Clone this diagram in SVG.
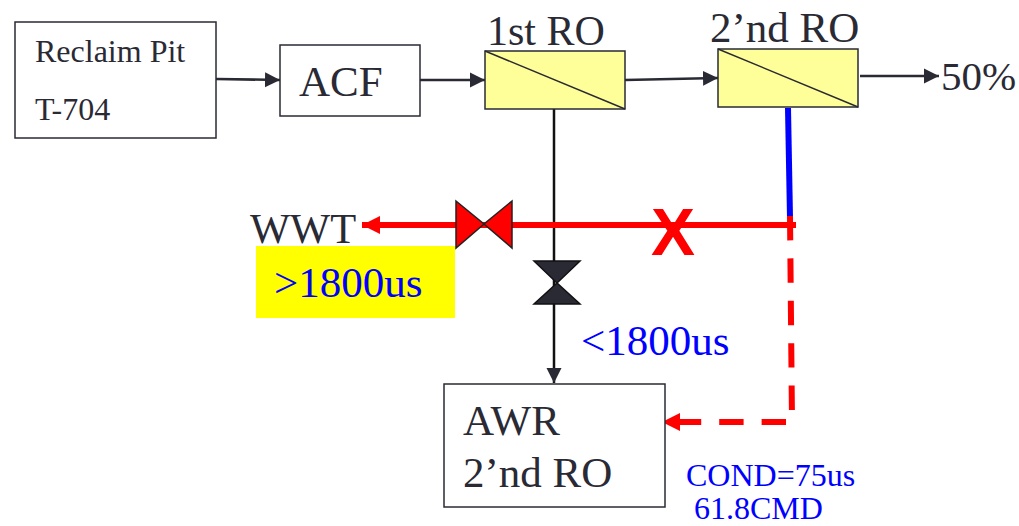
<svg xmlns="http://www.w3.org/2000/svg" width="1019" height="526" viewBox="0 0 1019 526">
<defs>
<marker id="ab" markerUnits="userSpaceOnUse" markerWidth="16" markerHeight="16" refX="15" refY="8" orient="auto"><path d="M0 0.5L15 8L0 15.5Z" fill="#2a2a35"/></marker>
<marker id="ar" markerUnits="userSpaceOnUse" markerWidth="20" markerHeight="20" refX="18" refY="10" orient="auto"><path d="M0 1L18 10L0 19Z" fill="#ff0000"/></marker>
</defs>
<style>
text{font-family:"Liberation Serif","Times New Roman",serif;fill:#2a2a35}
.box{fill:#fff;stroke:#2a2a35;stroke-width:1.5}
.ro{fill:#ffff99;stroke:#2a2a35;stroke-width:1.5}
.l{fill:none;stroke:#2a2a35;stroke-width:2.5}
.d{fill:none;stroke:#2a2a35;stroke-width:1.5}
.b{fill:#0000ff}
</style>
<rect width="1019" height="526" fill="#fff"/>
<g id="connectors">
<path class="l" d="M216 79L280 80" marker-end="url(#ab)"/>
<path class="l" d="M420 80L485 80" marker-end="url(#ab)"/>
<path class="l" d="M625 80L718 78" marker-end="url(#ab)"/>
<path class="l" d="M860 76L939 76" marker-end="url(#ab)"/>
<path fill="none" stroke="#111" stroke-width="2.5" d="M554 109V383" marker-end="url(#ab)"/>
<path fill="none" stroke="#0000ff" stroke-width="6" d="M788 108L790 218"/>
<path fill="none" stroke="#ff0000" stroke-width="6" d="M796 225H362" marker-end="url(#ar)"/>
<path fill="none" stroke="#ff0000" stroke-width="6" stroke-dasharray="24.4 18" d="M790 216L792 422H662" marker-end="url(#ar)"/>
</g>
<g id="reclaim"><rect class="box" x="15" y="22" width="201" height="116"/><text x="35" y="62" font-size="32">Reclaim Pit</text><text x="35" y="120" font-size="32">T-704</text></g>
<g id="acf"><rect class="box" x="280" y="45" width="140" height="71"/><text x="299" y="96" font-size="43">ACF</text></g>
<g id="ro1"><rect class="ro" x="485" y="51" width="140" height="58"/><path class="d" d="M485 51L625 109"/><text x="487" y="45" font-size="42">1st RO</text></g>
<g id="ro2"><rect class="ro" x="718" y="49" width="140" height="58"/><path class="d" d="M718 49L858 107"/><text x="710" y="42" font-size="43">2’nd RO</text></g>
<g id="out"><text x="941" y="90" font-size="41">50%</text></g>
<g id="valve-red"><path d="M456 201L484 224L456 248ZM512 201L484 224L512 248Z" fill="#ff0000" stroke="#222" stroke-width="1.5"/></g>
<g id="valve-dark"><path d="M534 261L580 261L557 283ZM534 304L580 304L557 283Z" fill="#2a2a35" stroke="#111" stroke-width="1.5"/></g>
<g id="x-mark"><text x="651" y="255" font-size="66" font-weight="700" style="fill:#ff0000;font-family:'Liberation Sans',sans-serif">X</text></g>
<g id="wwt"><text x="250" y="243" font-size="42.5">WWT</text></g>
<g id="high"><rect x="256" y="246" width="199" height="72" fill="#ffff00"/><text class="b" x="274" y="297" font-size="43">&gt;1800us</text></g>
<g id="low"><text class="b" x="581" y="355" font-size="43">&lt;1800us</text></g>
<g id="awr"><rect class="box" x="444" y="384" width="221" height="123"/><text x="463" y="435" font-size="43">AWR</text><text x="463" y="487" font-size="43">2’nd RO</text></g>
<g id="cond"><text class="b" x="686" y="486" font-size="32">COND=75us</text><text class="b" x="694" y="519" font-size="32">61.8CMD</text></g>
</svg>
